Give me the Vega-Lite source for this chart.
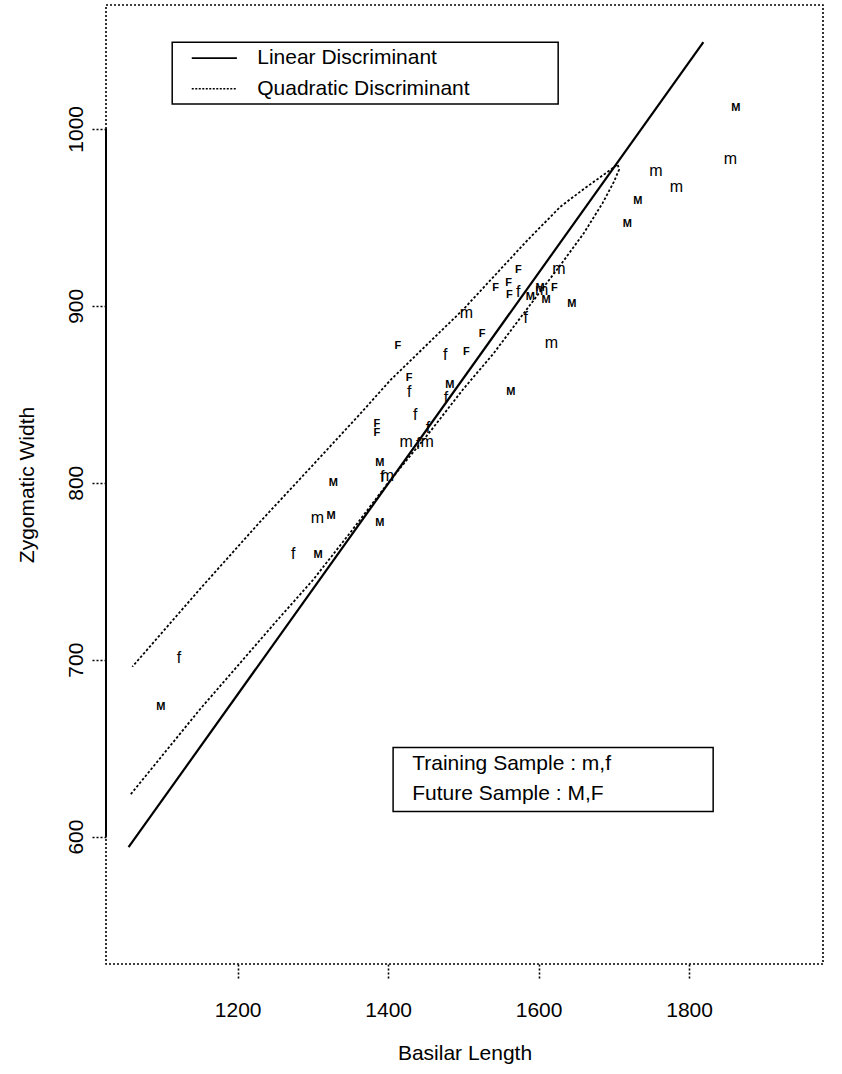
{
  "$schema": "https://vega.github.io/schema/vega-lite/v6.json",
  "width": 717,
  "height": 959,
  "autosize": "none",
  "padding": {"left": 106, "top": 5, "right": 19, "bottom": 110},
  "background": "white",
  "data": {"values": [{}]},
  "config": {
    "font": "Liberation Sans",
    "view": {"stroke": "#000", "strokeDash": [2, 2], "strokeWidth": 1.6},
    "axis": {
      "grid": false,
      "domain": false,
      "tickColor": "#000",
      "tickDash": [2, 2],
      "tickWidth": 1.6,
      "tickSize": 15,
      "labelFont": "Liberation Sans",
      "labelFontSize": 21,
      "labelColor": "#000",
      "format": "d",
      "titleFont": "Liberation Sans",
      "titleFontSize": 21,
      "titleFontWeight": "normal",
      "titleColor": "#000"
    }
  },
  "datasets": {
    "skulls": [
      {"label": "M", "sample": "future", "x": 1862, "y": 1012},
      {"label": "M", "sample": "future", "x": 1732, "y": 959},
      {"label": "M", "sample": "future", "x": 1718, "y": 946},
      {"label": "F", "sample": "future", "x": 1573, "y": 920},
      {"label": "F", "sample": "future", "x": 1560, "y": 913},
      {"label": "F", "sample": "future", "x": 1543, "y": 910},
      {"label": "F", "sample": "future", "x": 1561, "y": 906},
      {"label": "M", "sample": "future", "x": 1602, "y": 910},
      {"label": "F", "sample": "future", "x": 1621, "y": 910},
      {"label": "M", "sample": "future", "x": 1589, "y": 905},
      {"label": "M", "sample": "future", "x": 1610, "y": 903},
      {"label": "M", "sample": "future", "x": 1644, "y": 901},
      {"label": "F", "sample": "future", "x": 1525, "y": 884},
      {"label": "F", "sample": "future", "x": 1413, "y": 877},
      {"label": "F", "sample": "future", "x": 1504, "y": 874},
      {"label": "F", "sample": "future", "x": 1428, "y": 859},
      {"label": "M", "sample": "future", "x": 1482, "y": 855},
      {"label": "M", "sample": "future", "x": 1563, "y": 851},
      {"label": "F", "sample": "future", "x": 1385, "y": 833},
      {"label": "F", "sample": "future", "x": 1385, "y": 828},
      {"label": "M", "sample": "future", "x": 1389, "y": 811},
      {"label": "M", "sample": "future", "x": 1327, "y": 800},
      {"label": "M", "sample": "future", "x": 1324, "y": 781},
      {"label": "M", "sample": "future", "x": 1389, "y": 777},
      {"label": "M", "sample": "future", "x": 1307, "y": 759},
      {"label": "M", "sample": "future", "x": 1098, "y": 673},
      {"label": "m", "sample": "training", "x": 1855, "y": 983},
      {"label": "m", "sample": "training", "x": 1756, "y": 976},
      {"label": "m", "sample": "training", "x": 1783, "y": 967},
      {"label": "m", "sample": "training", "x": 1627, "y": 921},
      {"label": "f", "sample": "training", "x": 1573, "y": 908},
      {"label": "m", "sample": "training", "x": 1604, "y": 909},
      {"label": "m", "sample": "training", "x": 1504, "y": 896},
      {"label": "f", "sample": "training", "x": 1583, "y": 893},
      {"label": "m", "sample": "training", "x": 1617, "y": 879},
      {"label": "f", "sample": "training", "x": 1476, "y": 872},
      {"label": "f", "sample": "training", "x": 1428, "y": 851},
      {"label": "f", "sample": "training", "x": 1477, "y": 848},
      {"label": "f", "sample": "training", "x": 1436, "y": 838},
      {"label": "f", "sample": "training", "x": 1453, "y": 831},
      {"label": "m", "sample": "training", "x": 1424, "y": 823},
      {"label": "f", "sample": "training", "x": 1440, "y": 822},
      {"label": "m", "sample": "training", "x": 1452, "y": 823},
      {"label": "m", "sample": "training", "x": 1399, "y": 804},
      {"label": "f", "sample": "training", "x": 1392, "y": 803},
      {"label": "m", "sample": "training", "x": 1306, "y": 780},
      {"label": "f", "sample": "training", "x": 1274, "y": 760},
      {"label": "f", "sample": "training", "x": 1122, "y": 701}
    ],
    "linear": [
      {"x": 1055, "y": 594},
      {"x": 1819, "y": 1049}
    ],
    "quadratic": [
      {"order": 1, "x": 1058, "y": 624},
      {"order": 2, "x": 1150, "y": 672},
      {"order": 3, "x": 1252, "y": 722},
      {"order": 4, "x": 1300, "y": 745},
      {"order": 5, "x": 1350, "y": 772},
      {"order": 6, "x": 1400, "y": 800},
      {"order": 7, "x": 1456, "y": 829},
      {"order": 8, "x": 1500, "y": 853},
      {"order": 9, "x": 1540, "y": 873},
      {"order": 10, "x": 1586, "y": 899},
      {"order": 11, "x": 1629, "y": 923},
      {"order": 12, "x": 1660, "y": 941},
      {"order": 13, "x": 1685, "y": 958},
      {"order": 14, "x": 1700, "y": 970},
      {"order": 15, "x": 1707, "y": 977},
      {"order": 16, "x": 1705, "y": 980},
      {"order": 17, "x": 1696, "y": 977},
      {"order": 18, "x": 1660, "y": 966},
      {"order": 19, "x": 1629, "y": 956},
      {"order": 20, "x": 1585, "y": 937},
      {"order": 21, "x": 1500, "y": 898},
      {"order": 22, "x": 1403, "y": 858},
      {"order": 23, "x": 1363, "y": 839},
      {"order": 24, "x": 1300, "y": 810},
      {"order": 25, "x": 1230, "y": 778},
      {"order": 26, "x": 1150, "y": 740},
      {"order": 27, "x": 1060, "y": 696}
    ]
  },
  "encoding": {
    "x": {
      "type": "quantitative",
      "scale": {"domain": [1025, 1978], "nice": false, "zero": false},
      "axis": {
        "title": "Basilar Length",
        "values": [1200, 1400, 1600, 1800],
        "labelPadding": 20,
        "titlePadding": 22
      }
    },
    "y": {
      "type": "quantitative",
      "scale": {"domain": [528, 1070], "nice": false, "zero": false},
      "axis": {
        "title": "Zygomatic Width",
        "values": [600, 700, 800, 900, 1000],
        "labelAngle": -90,
        "labelAlign": "center",
        "labelBaseline": "bottom",
        "labelPadding": 5,
        "titlePadding": 28
      }
    }
  },
  "layer": [
    {
      "description": "solid y axis line spanning the tick range",
      "mark": {"type": "rule", "color": "#000", "strokeWidth": 2},
      "encoding": {
        "x": {"datum": 1025, "type": "quantitative"},
        "y": {"datum": 600, "type": "quantitative"},
        "y2": {"datum": 1000}
      }
    },
    {
      "data": {"name": "linear"},
      "mark": {"type": "line", "color": "#000", "strokeWidth": 2.2},
      "encoding": {
        "x": {"field": "x", "type": "quantitative"},
        "y": {"field": "y", "type": "quantitative"}
      }
    },
    {
      "data": {"name": "quadratic"},
      "mark": {"type": "line", "color": "#000", "strokeWidth": 1.8, "strokeDash": [2.5, 2]},
      "encoding": {
        "x": {"field": "x", "type": "quantitative"},
        "y": {"field": "y", "type": "quantitative"},
        "order": {"field": "order", "type": "quantitative"}
      }
    },
    {
      "data": {"name": "skulls"},
      "transform": [{"filter": "datum.sample === 'training'"}],
      "mark": {"type": "text", "fontSize": 16, "color": "#000", "align": "center", "baseline": "middle"},
      "encoding": {
        "x": {"field": "x", "type": "quantitative"},
        "y": {"field": "y", "type": "quantitative"},
        "text": {"field": "label"}
      }
    },
    {
      "data": {"name": "skulls"},
      "transform": [{"filter": "datum.sample === 'future'"}],
      "mark": {"type": "text", "fontSize": 11, "fontWeight": "bold", "color": "#000", "align": "center", "baseline": "middle"},
      "encoding": {
        "x": {"field": "x", "type": "quantitative"},
        "y": {"field": "y", "type": "quantitative"},
        "text": {"field": "label"}
      }
    },
    {
      "description": "line-type key box",
      "mark": {"type": "rect", "fill": "white", "stroke": "#000", "strokeWidth": 1.5},
      "encoding": {
        "x": {"datum": 1113, "type": "quantitative"},
        "x2": {"datum": 1626},
        "y": {"datum": 1049, "type": "quantitative"},
        "y2": {"datum": 1014}
      }
    },
    {
      "mark": {"type": "rule", "color": "#000", "strokeWidth": 1.6},
      "encoding": {
        "x": {"datum": 1139, "type": "quantitative"},
        "x2": {"datum": 1199},
        "y": {"datum": 1040, "type": "quantitative"}
      }
    },
    {
      "mark": {"type": "rule", "color": "#000", "strokeWidth": 1.6, "strokeDash": [2, 1.5]},
      "encoding": {
        "x": {"datum": 1139, "type": "quantitative"},
        "x2": {"datum": 1199},
        "y": {"datum": 1022.7, "type": "quantitative"}
      }
    },
    {
      "mark": {"type": "text", "fontSize": 21, "color": "#000", "align": "left", "baseline": "middle"},
      "encoding": {
        "x": {"datum": 1226, "type": "quantitative"},
        "y": {"datum": 1040, "type": "quantitative"},
        "text": {"value": "Linear Discriminant"}
      }
    },
    {
      "mark": {"type": "text", "fontSize": 21, "color": "#000", "align": "left", "baseline": "middle"},
      "encoding": {
        "x": {"datum": 1226, "type": "quantitative"},
        "y": {"datum": 1022.7, "type": "quantitative"},
        "text": {"value": "Quadratic Discriminant"}
      }
    },
    {
      "description": "sample key box",
      "mark": {"type": "rect", "fill": "white", "stroke": "#000", "strokeWidth": 1.5},
      "encoding": {
        "x": {"datum": 1406.6, "type": "quantitative"},
        "x2": {"datum": 1832},
        "y": {"datum": 650.4, "type": "quantitative"},
        "y2": {"datum": 614.2}
      }
    },
    {
      "mark": {"type": "text", "fontSize": 21, "color": "#000", "align": "left", "baseline": "middle"},
      "encoding": {
        "x": {"datum": 1432, "type": "quantitative"},
        "y": {"datum": 640.9, "type": "quantitative"},
        "text": {"value": "Training Sample : m,f"}
      }
    },
    {
      "mark": {"type": "text", "fontSize": 21, "color": "#000", "align": "left", "baseline": "middle"},
      "encoding": {
        "x": {"datum": 1432, "type": "quantitative"},
        "y": {"datum": 623.9, "type": "quantitative"},
        "text": {"value": "Future Sample : M,F"}
      }
    }
  ]
}
